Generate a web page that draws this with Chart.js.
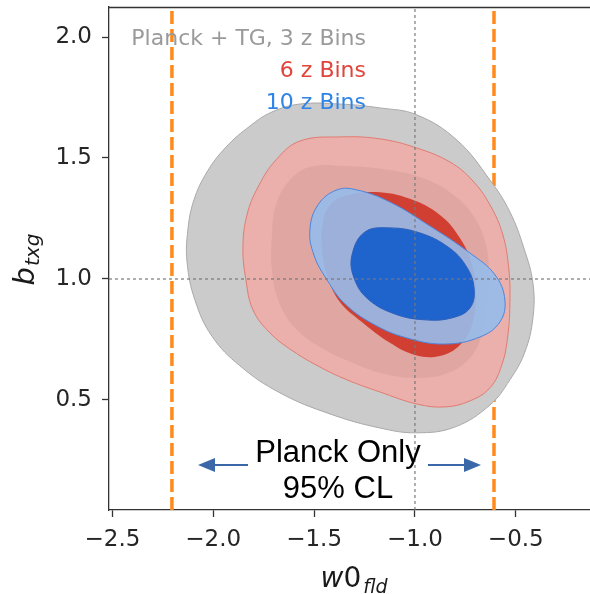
<!DOCTYPE html>
<html>
<head>
<meta charset="utf-8">
<script src="https://cdn.jsdelivr.net/npm/chart.js@4.4.1/dist/chart.umd.min.js"></script>
<style>
  html, body { margin: 0; padding: 0; background: #fff; overflow: hidden; }
  canvas { display: block; }
</style>
</head>
<body>
<canvas id="contourChart" width="590" height="594"></canvas>
<script>
// axis setup
const X_TICKS = [-2.5, -2.0, -1.5, -1.0, -0.5];
const Y_TICKS = [0.5, 1.0, 1.5, 2.0];
const X_RANGE = [-2.517, -0.132];
const Y_RANGE = [0.045, 2.124];

// Planck-only 95% limits on w0 and fiducial values
const PLANCK_95_LIMITS = [-2.205, -0.608];
const FIDUCIAL_W0 = -1.0;
const FIDUCIAL_B = 1.0;

// contour outlines, [w0, b] pairs (clockwise from the top)
const bins3_95 = [
  [-1.570, 1.723], [-1.372, 1.723], [-1.174, 1.707], [-0.990, 1.678], [-0.792, 1.574],
  [-0.628, 1.409], [-0.529, 1.277], [-0.460, 1.128], [-0.415, 0.983], [-0.415, 0.839],
  [-0.455, 0.698], [-0.529, 0.583], [-0.628, 0.479], [-0.802, 0.388], [-0.990, 0.364],
  [-1.174, 0.384], [-1.421, 0.442], [-1.669, 0.529], [-1.868, 0.641], [-2.007, 0.764],
  [-2.091, 0.913], [-2.130, 1.070], [-2.126, 1.202], [-2.096, 1.326], [-2.031, 1.442],
  [-1.937, 1.545], [-1.818, 1.632], [-1.709, 1.690]
];
const bins3_68 = [
  [-1.521, 1.463], [-1.347, 1.467], [-1.124, 1.450], [-0.950, 1.413], [-0.802, 1.343],
  [-0.703, 1.252], [-0.648, 1.140], [-0.633, 1.017], [-0.643, 0.872], [-0.673, 0.756],
  [-0.737, 0.665], [-0.851, 0.607], [-0.990, 0.591], [-1.149, 0.607], [-1.307, 0.653],
  [-1.471, 0.719], [-1.595, 0.798], [-1.674, 0.905], [-1.709, 1.037], [-1.709, 1.182],
  [-1.689, 1.306], [-1.620, 1.409]
];
const bins6_95 = [
  [-1.570, 1.570], [-1.372, 1.587], [-1.174, 1.579], [-0.990, 1.541], [-0.826, 1.483],
  [-0.717, 1.409], [-0.628, 1.306], [-0.564, 1.182], [-0.534, 1.037], [-0.529, 0.913],
  [-0.539, 0.769], [-0.569, 0.645], [-0.628, 0.550], [-0.727, 0.496], [-0.851, 0.471],
  [-0.990, 0.483], [-1.174, 0.533], [-1.337, 0.583], [-1.471, 0.636], [-1.605, 0.702],
  [-1.719, 0.777], [-1.803, 0.872], [-1.838, 0.996], [-1.853, 1.128], [-1.833, 1.264],
  [-1.778, 1.380], [-1.689, 1.492]
];
const bins6_68 = [
  [-1.347, 1.343], [-1.198, 1.359], [-1.025, 1.331], [-0.876, 1.264], [-0.777, 1.169],
  [-0.717, 1.058], [-0.698, 0.934], [-0.717, 0.810], [-0.777, 0.727], [-0.876, 0.682],
  [-1.000, 0.686], [-1.124, 0.736], [-1.263, 0.822], [-1.372, 0.905], [-1.431, 1.004],
  [-1.461, 1.120], [-1.456, 1.236], [-1.421, 1.306]
];
const bins10_95 = [
  [-1.387, 1.368], [-1.288, 1.368], [-1.124, 1.318], [-0.926, 1.219], [-0.727, 1.107],
  [-0.603, 1.017], [-0.554, 0.913], [-0.579, 0.822], [-0.678, 0.760], [-0.851, 0.731],
  [-1.040, 0.756], [-1.208, 0.814], [-1.347, 0.897], [-1.436, 0.996], [-1.501, 1.099],
  [-1.521, 1.202], [-1.481, 1.306]
];
const bins10_68 = [
  [-1.248, 1.194], [-1.124, 1.211], [-0.975, 1.190], [-0.836, 1.132], [-0.747, 1.054],
  [-0.707, 0.963], [-0.727, 0.880], [-0.817, 0.839], [-0.950, 0.831], [-1.099, 0.855],
  [-1.233, 0.917], [-1.302, 1.004], [-1.312, 1.099]
];

const LEGEND_LABELS = ['Planck + TG, 3 z Bins', '6 z Bins', '10 z Bins'];
const LEGEND_COLORS = ['#9a9a9a', '#e0443a', '#2f84e6'];
const NOTE_LINES = ['Planck Only', '95% CL'];

const toXY = pts => pts.map(([x, y]) => ({ x, y }));
const fmtTick = v => (v < 0 ? '\u2212' : '') + Math.abs(v).toFixed(1);

function contourSet(pts, fill, edge, order) {
  return {
    data: toXY(pts),
    closedContour: true,
    showLine: true,
    spanGaps: true,
    fill: 'shape',
    backgroundColor: fill,
    borderColor: edge || fill,
    borderWidth: edge ? 1 : 0,
    pointRadius: 0,
    tension: 0.4,
    order
  };
}

function vLine(x, color, width, dash, order) {
  return {
    data: [{ x, y: Y_RANGE[0] }, { x, y: Y_RANGE[1] }],
    showLine: true, fill: false, borderColor: color, borderWidth: width,
    borderDash: dash, pointRadius: 0, order
  };
}

// let the contour lines close on themselves like a radar line does
const closeLoopPlugin = {
  id: 'closeLoop',
  beforeDatasetsUpdate(chart) {
    chart.data.datasets.forEach((ds, i) => {
      const line = chart.getDatasetMeta(i).dataset;
      if (ds.closedContour && line) { line._loop = true; line._fullLoop = true; }
    });
  },
  afterDatasetsUpdate(chart) {
    chart.data.datasets.forEach((ds, i) => {
      const line = chart.getDatasetMeta(i).dataset;
      if (ds.closedContour && line) {
        line._loop = true;
        line._fullLoop = true;
        line._segments = undefined;
        line._path = undefined;
        line._pointsUpdated = false;
      }
    });
  }
};

const overlayPlugin = {
  id: 'overlay',
  afterDraw(chart) {
    const { ctx: c, chartArea: a } = chart;
    c.save();
    // top spine
    c.strokeStyle = '#333';
    c.lineWidth = 1.3;
    c.beginPath();
    c.moveTo(a.left, a.top + 0.5);
    c.lineTo(a.right, a.top + 0.5);
    c.stroke();

    // legend text
    c.textAlign = 'right';
    c.textBaseline = 'alphabetic';
    c.font = "22px 'DejaVu Sans'";
    LEGEND_LABELS.forEach((t, i) => {
      c.fillStyle = LEGEND_COLORS[i];
      c.fillText(t, 366, 45 + i * 32);
    });

    // Planck only note with arrows
    c.textAlign = 'center';
    c.fillStyle = '#000';
    c.font = "31px 'Liberation Sans', Arial, sans-serif";
    c.fillText(NOTE_LINES[0], 338, 462);
    c.fillText(NOTE_LINES[1], 338, 498);
    const arrow = (x0, x1, y) => {
      const dir = Math.sign(x1 - x0);
      c.strokeStyle = '#3a68a8';
      c.fillStyle = '#3a68a8';
      c.lineWidth = 2;
      c.beginPath();
      c.moveTo(x0, y);
      c.lineTo(x1 - dir * 12, y);
      c.stroke();
      c.beginPath();
      c.moveTo(x1, y);
      c.lineTo(x1 - dir * 17, y - 7);
      c.lineTo(x1 - dir * 17, y + 7);
      c.closePath();
      c.fill();
    };
    arrow(248, 198, 465);
    arrow(428, 481, 465);

    // axis titles
    c.fillStyle = '#1a1a1a';
    c.textAlign = 'left';
    c.font = "italic 29px 'DejaVu Sans'";
    const wb = c.measureText('b').width;
    c.font = "italic 20px 'DejaVu Sans'";
    const wsub = c.measureText('txg').width;
    c.save();
    c.translate(34, 260 + (wb + wsub) / 2);
    c.rotate(-Math.PI / 2);
    c.font = "italic 29px 'DejaVu Sans'";
    c.fillText('b', 0, 0);
    c.font = "italic 20px 'DejaVu Sans'";
    c.fillText('txg', wb + 1, 5);
    c.restore();

    c.font = "italic 28px 'DejaVu Sans'";
    const ww = c.measureText('w').width;
    c.font = "28px 'DejaVu Sans'";
    const w0 = c.measureText('0').width;
    c.font = "italic 19px 'DejaVu Sans'";
    const wf = c.measureText('fld').width;
    const xs = 354 - (ww + w0 + wf + 2) / 2;
    c.font = "italic 28px 'DejaVu Sans'";
    c.fillText('w', xs, 587);
    c.font = "28px 'DejaVu Sans'";
    c.fillText('0', xs + ww, 587);
    c.font = "italic 19px 'DejaVu Sans'";
    c.fillText('fld', xs + ww + w0 + 2, 593);
    c.restore();
  }
};

const ctx = document.getElementById('contourChart');
new Chart(ctx, {
  type: 'scatter',
  data: {
    datasets: [
      vLine(FIDUCIAL_W0, 'rgba(120,120,120,0.8)', 1.5, [3, 3], 0),
      {
        data: [{ x: X_RANGE[0], y: FIDUCIAL_B }, { x: X_RANGE[1], y: FIDUCIAL_B }],
        showLine: true, fill: false, borderColor: 'rgba(120,120,120,0.8)', borderWidth: 1.5,
        borderDash: [3, 3], pointRadius: 0, order: 0
      },
      contourSet(bins10_68, '#1f64cc', '#2e5fb8', 1),
      contourSet(bins10_95, 'rgba(150,188,236,0.9)', '#4c86dc', 2),
      contourSet(bins6_68, '#d13f32', null, 3),
      contourSet(bins3_68, '#e0a6a2', null, 4),
      contourSet(bins6_95, '#ebb0ab', '#e07c72', 5),
      contourSet(bins3_95, '#cbcbcb', '#a9a9a9', 6),
      vLine(PLANCK_95_LIMITS[0], '#ff8a1e', 3.5, [13, 5], 7),
      vLine(PLANCK_95_LIMITS[1], '#ff8a1e', 3.5, [13, 5], 7)
    ]
  },
  options: {
    responsive: false,
    animation: false,
    layout: { padding: { top: 7, right: 0, left: 0, bottom: 0 } },
    plugins: { legend: { display: false }, tooltip: { enabled: false } },
    scales: {
      x: {
        type: 'linear',
        min: X_RANGE[0],
        max: X_RANGE[1],
        afterBuildTicks: s => { s.ticks = X_TICKS.map(value => ({ value })); },
        afterFit: s => { s.height = 84; s.paddingLeft = 0; s.paddingRight = 0; },
        ticks: {
          font: { family: 'DejaVu Sans', size: 23 },
          color: '#262626',
          padding: 9,
          maxRotation: 0,
          callback: v => fmtTick(v)
        },
        grid: { drawOnChartArea: false, tickLength: 7, tickColor: '#333', tickWidth: 1.3 },
        border: { color: '#333', width: 1.3 }
      },
      y: {
        type: 'linear',
        min: Y_RANGE[0],
        max: Y_RANGE[1],
        afterBuildTicks: s => { s.ticks = Y_TICKS.map(value => ({ value })); },
        afterFit: s => { s.width = 109; s.paddingTop = 0; s.paddingBottom = 0; },
        ticks: {
          font: { family: 'DejaVu Sans', size: 23 },
          color: '#262626',
          padding: 10,
          callback: v => fmtTick(v)
        },
        grid: { drawOnChartArea: false, tickLength: 7, tickColor: '#333', tickWidth: 1.3 },
        border: { color: '#333', width: 1.3 }
      }
    }
  },
  plugins: [closeLoopPlugin, overlayPlugin]
});
</script>
</body>
</html>
